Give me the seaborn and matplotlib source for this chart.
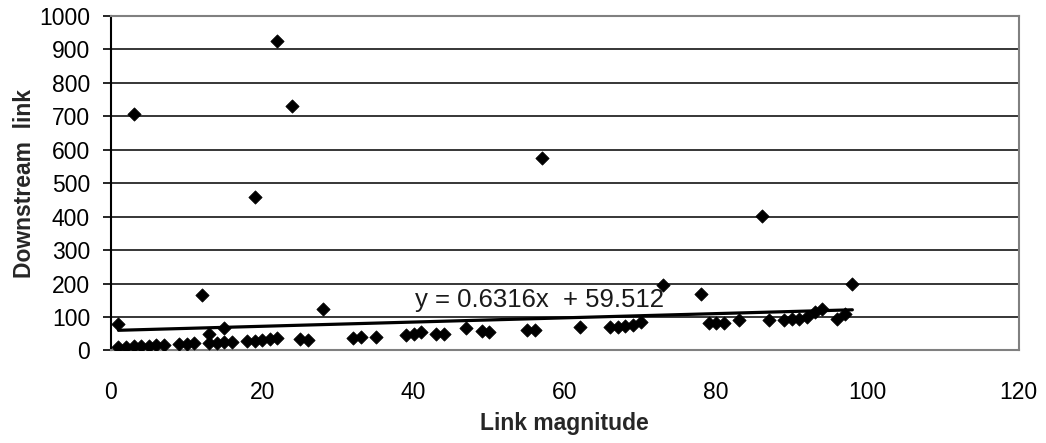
import numpy as np
import pandas as pd
import matplotlib
matplotlib.use("Agg")
import matplotlib.pyplot as plt
import seaborn as sns

# ---- data ----
link_magnitude = [1, 1, 2, 3, 3, 4, 5, 6, 7, 9, 10, 11, 12, 13, 13, 14, 15, 15, 16,
                  18, 19, 19, 20, 21, 22, 22, 24, 25, 26, 28, 32, 33, 35, 39, 40, 41,
                  43, 44, 47, 49, 50, 55, 56, 57, 62, 66, 67, 68, 69, 70, 73, 78, 79,
                  80, 81, 83, 86, 87, 89, 90, 91, 92, 93, 94, 96, 97, 98]
downstream_link = [78, 10, 11, 707, 12, 13, 14, 15, 16, 18, 20, 21, 166, 50, 22, 23, 68, 24, 25,
                   27, 460, 28, 30, 33, 925, 37, 730, 33, 31, 125, 38, 39, 40, 45, 48, 55,
                   50, 50, 68, 57, 56, 60, 61, 575, 70, 70, 71, 72, 75, 85, 197, 170, 82,
                   82, 83, 90, 403, 90, 92, 93, 95, 100, 115, 125, 95, 108, 200]
trend_slope = 0.6316
trend_intercept = 59.512
trend_label = "y = 0.6316x  + 59.512"
x_ticks = [0, 20, 40, 60, 80, 100, 120]
y_ticks = [0, 100, 200, 300, 400, 500, 600, 700, 800, 900, 1000]

df = pd.DataFrame({"Link magnitude": link_magnitude, "Downstream link": downstream_link})

sns.set_theme(style="white")
plt.rcParams["font.family"] = ["Liberation Sans", "DejaVu Sans"]

fig = plt.figure(figsize=(10.46, 4.43), dpi=100)
ax = fig.add_axes([0.106, 0.209, 0.868, 0.755])

ax.set_xlim(0, 120)
ax.set_ylim(0, 1000)
ax.set_xticks(x_ticks)
ax.set_yticks(y_ticks)

# horizontal gridlines
for yv in y_ticks[1:-1]:
    ax.axhline(yv, color="black", lw=1.1, zorder=1)

sns.scatterplot(data=df, x="Link magnitude", y="Downstream link", marker="D",
                color="black", edgecolor="black", s=46, linewidth=0.5, ax=ax, zorder=3)

# linear trend line over the data range
xs = np.array([min(link_magnitude), max(link_magnitude)], dtype=float)
ax.plot(xs, trend_slope * xs + trend_intercept, color="black", lw=2.3, zorder=4)
ax.text(56.7, 150, trend_label, ha="center", va="center", fontsize=18.5, color="#1a1a1a", zorder=5)

for side in ["top", "right", "bottom"]:
    ax.spines[side].set_color("#808080")
    ax.spines[side].set_linewidth(1.5)
    ax.spines[side].set_visible(True)
ax.spines["left"].set_color("black")
ax.spines["left"].set_linewidth(1.5)
ax.spines["left"].set_visible(True)

ax.tick_params(axis="y", which="both", left=True, length=6, width=1.2, color="black",
               labelsize=16.5, pad=9, labelcolor="black")
ax.tick_params(axis="x", which="both", bottom=False, labelsize=16.5, pad=16, labelcolor="black")

ax.set_xlabel("Link magnitude", fontsize=16.5, fontweight="bold", labelpad=6)
ax.set_ylabel("Downstream  link", fontsize=16.5, fontweight="bold", labelpad=2)

fig.savefig("out.png", dpi=100)
